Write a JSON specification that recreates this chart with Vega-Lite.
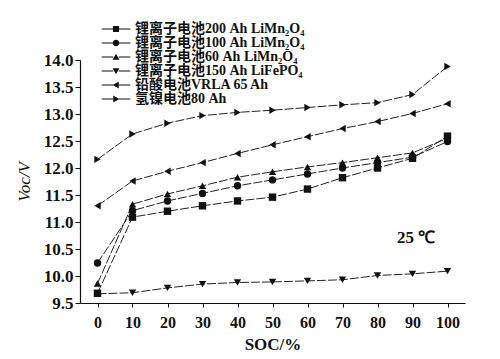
{
  "$schema": "https://vega.github.io/schema/vega-lite/v6.json",
  "autosize": {"type": "none"},
  "padding": {"left": 80, "top": 60, "right": 35, "bottom": 56},
  "width": 385,
  "height": 243,
  "background": "white",
  "config": {"view": {"stroke": null}, "font": "Liberation Serif"},
  "data": {"values": [
    {"soc": 0, "v": 9.68, "s": "锂离子电池200 Ah LiMn₂O₄"},
    {"soc": 10, "v": 11.09, "s": "锂离子电池200 Ah LiMn₂O₄"},
    {"soc": 20, "v": 11.2, "s": "锂离子电池200 Ah LiMn₂O₄"},
    {"soc": 30, "v": 11.3, "s": "锂离子电池200 Ah LiMn₂O₄"},
    {"soc": 40, "v": 11.39, "s": "锂离子电池200 Ah LiMn₂O₄"},
    {"soc": 50, "v": 11.46, "s": "锂离子电池200 Ah LiMn₂O₄"},
    {"soc": 60, "v": 11.61, "s": "锂离子电池200 Ah LiMn₂O₄"},
    {"soc": 70, "v": 11.82, "s": "锂离子电池200 Ah LiMn₂O₄"},
    {"soc": 80, "v": 12.0, "s": "锂离子电池200 Ah LiMn₂O₄"},
    {"soc": 90, "v": 12.18, "s": "锂离子电池200 Ah LiMn₂O₄"},
    {"soc": 100, "v": 12.59, "s": "锂离子电池200 Ah LiMn₂O₄"},
    {"soc": 0, "v": 10.24, "s": "锂离子电池100 Ah LiMn₂O₄"},
    {"soc": 10, "v": 11.21, "s": "锂离子电池100 Ah LiMn₂O₄"},
    {"soc": 20, "v": 11.39, "s": "锂离子电池100 Ah LiMn₂O₄"},
    {"soc": 30, "v": 11.53, "s": "锂离子电池100 Ah LiMn₂O₄"},
    {"soc": 40, "v": 11.67, "s": "锂离子电池100 Ah LiMn₂O₄"},
    {"soc": 50, "v": 11.78, "s": "锂离子电池100 Ah LiMn₂O₄"},
    {"soc": 60, "v": 11.89, "s": "锂离子电池100 Ah LiMn₂O₄"},
    {"soc": 70, "v": 12.0, "s": "锂离子电池100 Ah LiMn₂O₄"},
    {"soc": 80, "v": 12.1, "s": "锂离子电池100 Ah LiMn₂O₄"},
    {"soc": 90, "v": 12.2, "s": "锂离子电池100 Ah LiMn₂O₄"},
    {"soc": 100, "v": 12.49, "s": "锂离子电池100 Ah LiMn₂O₄"},
    {"soc": 0, "v": 9.86, "s": "锂离子电池60 Ah LiMn₂O₄"},
    {"soc": 10, "v": 11.33, "s": "锂离子电池60 Ah LiMn₂O₄"},
    {"soc": 20, "v": 11.52, "s": "锂离子电池60 Ah LiMn₂O₄"},
    {"soc": 30, "v": 11.67, "s": "锂离子电池60 Ah LiMn₂O₄"},
    {"soc": 40, "v": 11.83, "s": "锂离子电池60 Ah LiMn₂O₄"},
    {"soc": 50, "v": 11.93, "s": "锂离子电池60 Ah LiMn₂O₄"},
    {"soc": 60, "v": 12.02, "s": "锂离子电池60 Ah LiMn₂O₄"},
    {"soc": 70, "v": 12.1, "s": "锂离子电池60 Ah LiMn₂O₄"},
    {"soc": 80, "v": 12.19, "s": "锂离子电池60 Ah LiMn₂O₄"},
    {"soc": 90, "v": 12.28, "s": "锂离子电池60 Ah LiMn₂O₄"},
    {"soc": 100, "v": 12.55, "s": "锂离子电池60 Ah LiMn₂O₄"},
    {"soc": 0, "v": 9.67, "s": "锂离子电池150 Ah LiFePO₄"},
    {"soc": 10, "v": 9.69, "s": "锂离子电池150 Ah LiFePO₄"},
    {"soc": 20, "v": 9.78, "s": "锂离子电池150 Ah LiFePO₄"},
    {"soc": 30, "v": 9.85, "s": "锂离子电池150 Ah LiFePO₄"},
    {"soc": 40, "v": 9.88, "s": "锂离子电池150 Ah LiFePO₄"},
    {"soc": 50, "v": 9.89, "s": "锂离子电池150 Ah LiFePO₄"},
    {"soc": 60, "v": 9.91, "s": "锂离子电池150 Ah LiFePO₄"},
    {"soc": 70, "v": 9.93, "s": "锂离子电池150 Ah LiFePO₄"},
    {"soc": 80, "v": 10.01, "s": "锂离子电池150 Ah LiFePO₄"},
    {"soc": 90, "v": 10.04, "s": "锂离子电池150 Ah LiFePO₄"},
    {"soc": 100, "v": 10.09, "s": "锂离子电池150 Ah LiFePO₄"},
    {"soc": 0, "v": 11.3, "s": "铅酸电池VRLA 65 Ah"},
    {"soc": 10, "v": 11.76, "s": "铅酸电池VRLA 65 Ah"},
    {"soc": 20, "v": 11.94, "s": "铅酸电池VRLA 65 Ah"},
    {"soc": 30, "v": 12.1, "s": "铅酸电池VRLA 65 Ah"},
    {"soc": 40, "v": 12.27, "s": "铅酸电池VRLA 65 Ah"},
    {"soc": 50, "v": 12.43, "s": "铅酸电池VRLA 65 Ah"},
    {"soc": 60, "v": 12.58, "s": "铅酸电池VRLA 65 Ah"},
    {"soc": 70, "v": 12.73, "s": "铅酸电池VRLA 65 Ah"},
    {"soc": 80, "v": 12.86, "s": "铅酸电池VRLA 65 Ah"},
    {"soc": 90, "v": 13.01, "s": "铅酸电池VRLA 65 Ah"},
    {"soc": 100, "v": 13.19, "s": "铅酸电池VRLA 65 Ah"},
    {"soc": 0, "v": 12.16, "s": "氢镍电池80 Ah"},
    {"soc": 10, "v": 12.63, "s": "氢镍电池80 Ah"},
    {"soc": 20, "v": 12.83, "s": "氢镍电池80 Ah"},
    {"soc": 30, "v": 12.97, "s": "氢镍电池80 Ah"},
    {"soc": 40, "v": 13.03, "s": "氢镍电池80 Ah"},
    {"soc": 50, "v": 13.07, "s": "氢镍电池80 Ah"},
    {"soc": 60, "v": 13.12, "s": "氢镍电池80 Ah"},
    {"soc": 70, "v": 13.17, "s": "氢镍电池80 Ah"},
    {"soc": 80, "v": 13.21, "s": "氢镍电池80 Ah"},
    {"soc": 90, "v": 13.36, "s": "氢镍电池80 Ah"},
    {"soc": 100, "v": 13.88, "s": "氢镍电池80 Ah"}
  ]},
  "encoding": {
    "x": {"field": "soc", "type": "quantitative",
      "scale": {"domain": [-5, 105], "nice": false, "zero": false},
      "axis": {"values": [0,10,20,30,40,50,60,70,80,90,100], "title": "SOC/%", "grid": false,
        "labelFont": "Liberation Serif", "labelFontSize": 16, "labelFontWeight": "bold", "labelColor": "#111",
        "titleFont": "Liberation Serif", "titleFontSize": 17, "titleFontWeight": "bold", "titleColor": "#111",
        "domainColor": "#111", "domainWidth": 1.2, "tickColor": "#111", "tickSize": 4, "labelPadding": 7, "titlePadding": 6}},
    "y": {"field": "v", "type": "quantitative",
      "scale": {"domain": [9.5, 14.0], "nice": false, "zero": false},
      "axis": {"values": [9.5,10,10.5,11,11.5,12,12.5,13,13.5,14], "format": ".1f", "title": "Voc/V", "grid": false,
        "labelFont": "Liberation Serif", "labelFontSize": 17, "labelFontWeight": "bold", "labelColor": "#111",
        "titleFont": "Liberation Serif", "titleFontSize": 17, "titleFontStyle": "italic", "titleFontWeight": "normal", "titleColor": "#111",
        "domainColor": "#111", "domainWidth": 1.2, "tickColor": "#111", "tickSize": 5, "labelPadding": 2, "titlePadding": 10}}
  },
  "layer": [
    {"mark": {"type": "line", "color": "#222", "strokeWidth": 1, "strokeDash": [9, 2]},
      "encoding": {"detail": {"field": "s"}}},
    {"mark": {"type": "point", "filled": true, "color": "#111", "opacity": 1, "size": 55},
      "encoding": {"shape": {"field": "s", "type": "nominal",
        "scale": {"domain": ["锂离子电池200 Ah LiMn₂O₄", "锂离子电池100 Ah LiMn₂O₄", "锂离子电池60 Ah LiMn₂O₄", "锂离子电池150 Ah LiFePO₄", "铅酸电池VRLA 65 Ah", "氢镍电池80 Ah"],
          "range": ["square", "circle", "triangle-up", "triangle-down", "triangle-left", "triangle-right"]},
        "legend": null}}},
    {"mark": {"type": "point", "filled": true, "color": "#111", "opacity": 0, "size": 121},
      "encoding": {"shape": {"field": "s", "type": "nominal",
        "scale": {"domain": ["锂离子电池200 Ah LiMn₂O₄", "锂离子电池100 Ah LiMn₂O₄", "锂离子电池60 Ah LiMn₂O₄", "锂离子电池150 Ah LiFePO₄", "铅酸电池VRLA 65 Ah", "氢镍电池80 Ah"],
          "range": [
            "M-2.6,-0.09H-0.5V0.09H-2.6ZM0.5,-0.09H2.6V0.09H0.5ZM-0.55,-0.55H0.55V0.55H-0.55Z",
            "M-2.6,-0.09H-0.5V0.09H-2.6ZM0.5,-0.09H2.6V0.09H0.5ZM0.6,0A0.6,0.6 0 1 1 -0.6,0A0.6,0.6 0 1 1 0.6,0Z",
            "M-2.6,-0.09H-0.5V0.09H-2.6ZM0.5,-0.09H2.6V0.09H0.5ZM0,-0.6L0.62,0.5H-0.62Z",
            "M-2.6,-0.09H-0.5V0.09H-2.6ZM0.5,-0.09H2.6V0.09H0.5ZM0,0.6L0.62,-0.5H-0.62Z",
            "M-2.6,-0.09H-0.5V0.09H-2.6ZM0.5,-0.09H2.6V0.09H0.5ZM-0.6,0L0.5,-0.62V0.62Z",
            "M-2.6,-0.09H-0.5V0.09H-2.6ZM0.5,-0.09H2.6V0.09H0.5ZM0.6,0L-0.5,-0.62V0.62Z"
          ]},
        "legend": {"orient": "none", "legendX": 29, "legendY": -38, "title": null, "padding": 0,
          "symbolSize": 121, "symbolOpacity": 1, "symbolFillColor": "#111", "symbolStrokeColor": "#111", "symbolStrokeWidth": 0.5,
          "labelFont": "Liberation Serif, Noto Sans CJK SC", "labelFontSize": 14, "labelFontWeight": "bold", "labelColor": "#111",
          "labelOffset": 12, "rowPadding": -1, "labelLimit": 300,
          "encode": {"symbols": {"update": {"fill": {"value": "#111"}, "opacity": {"value": 1}, "fillOpacity": {"value": 1}}}}}}}},
    {"data": {"values": [{"soc": 91, "v": 10.7, "t": "25 ℃"}]},
      "mark": {"type": "text", "font": "Liberation Serif", "fontSize": 17, "fontWeight": "bold", "color": "#111"},
      "encoding": {"text": {"field": "t"}}}
  ],
  "resolve": {"scale": {"shape": "independent"}}
}
